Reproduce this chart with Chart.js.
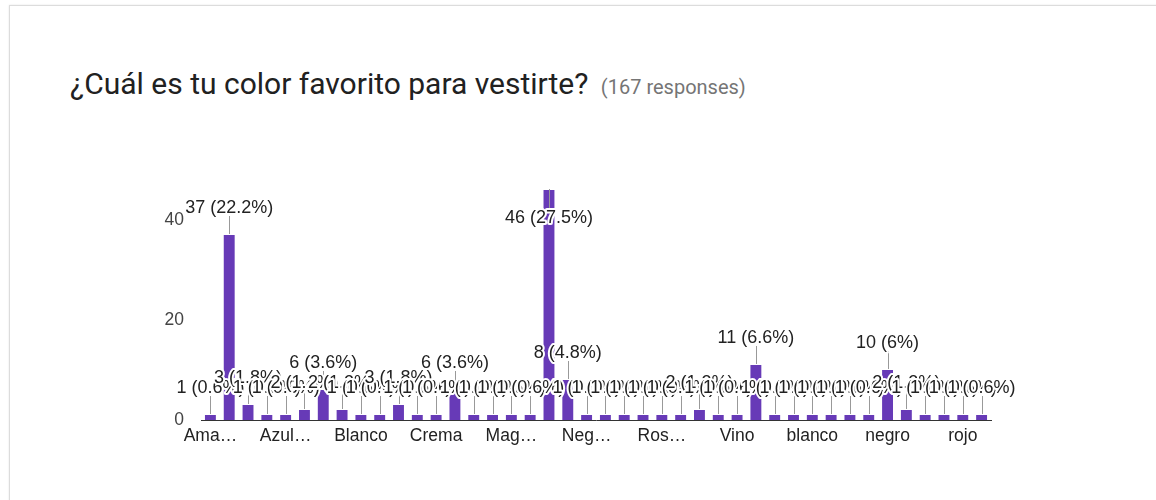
<!DOCTYPE html>
<html>
<head>
<meta charset="utf-8">
<script src="https://cdn.jsdelivr.net/npm/chart.js@4/dist/chart.umd.min.js"></script>
<style>
  html, body { margin: 0; padding: 0; background: #fff; }
  body { width: 1156px; height: 500px; position: relative; overflow: hidden; }
  .card {
    position: absolute; left: 9px; top: 5px; right: -20px; bottom: -20px;
    border: 1px solid #dcdcdc;
    box-shadow: 0 0 2px rgba(0,0,0,0.10);
  }
  .title {
    position: absolute; left: 70px; top: 69px;
    font-family: Roboto, sans-serif; font-size: 30px; line-height: 30px;
    color: #212121; white-space: nowrap;
  }
  .title span { font-size: 20px; color: #757575; margin-left: 5px; }
  #chart { position: absolute; left: 0; top: 0; }
</style>
</head>
<body>
<div class="card"></div>
<div class="title">¿Cuál es tu color favorito para vestirte? <span>(167 responses)</span></div>
<canvas id="chart" width="1156" height="500"></canvas>
<script>
// answers, sorted the way the form lists them
const colores = [
    "Amarillo", "Azul", "Azul cielo", "Azul claro", "Azul marino", "Azul rey",
    "Beige", "Blanca", "Blanco", "Blanco y negro", "Café", "Celeste",
    "Crema", "Gris", "Guinda", "Lila", "Magenta", "Marrón",
    "Morado", "Negro", "Negro y blanco", "Ninguno", "Púrpura", "Rojo",
    "Rosa pastel", "Rosado", "Turquesa", "Verde", "Vino", "azul",
    "azul marino", "beige", "blanco", "café", "gris", "morado",
    "negro", "negro y blanco", "ninguno", "rojizo", "rojo", "rosa"
];
const respuestas = [
    1, 37, 3, 1, 1, 2,
    6, 2, 1, 1, 3, 1,
    1, 6, 1, 1, 1, 1,
    46, 8, 1, 1, 1, 1,
    1, 1, 2, 1, 1, 11,
    1, 1, 1, 1, 1, 1,
    10, 2, 1, 1, 1, 1
];
// only every 4th category gets a (shortened) label
const tickLabels = ["Ama…", "Azul…", "Blanco", "Crema", "Mag…", "Neg…", "Ros…", "Vino", "blanco", "negro", "rojo"];
const yTicks = [0, 20, 40];

const total = respuestas.reduce((a, b) => a + b, 0);
const chartFont = '"Liberation Sans", Arial, sans-serif';

function pct(v) {
    const p = Math.round(v / total * 1000) / 10;
    return String(p);
}

// value + percentage above every bar, with a thin leader line
const barLabels = {
    id: 'barLabels',
    afterDatasetsDraw(chart) {
        const ctx = chart.ctx;
        const area = chart.chartArea;
        const bars = chart.getDatasetMeta(0).data;
        const spots = bars.map((bar, i) => {
            let y = bar.y - 27;
            let above = true;
            if (y < area.top) {
                y = bar.y + 28;
                above = false;
            }
            return { x: bar.x, top: bar.y, y: y, above: above, text: respuestas[i] + ' (' + pct(respuestas[i]) + '%)' };
        });

        ctx.save();
        ctx.strokeStyle = '#999';
        ctx.lineWidth = 1;
        spots.forEach(s => {
            const end = s.above ? s.y + 8 : s.y - 8;
            ctx.beginPath();
            ctx.moveTo(Math.round(s.x) + 0.5, s.top - 1);
            ctx.lineTo(Math.round(s.x) + 0.5, end);
            ctx.stroke();
        });

        ctx.font = '18px ' + chartFont;
        ctx.textAlign = 'center';
        ctx.textBaseline = 'middle';
        ctx.lineJoin = 'round';
        spots.forEach(s => {
            ctx.strokeStyle = '#fff';
            ctx.lineWidth = 4;
            ctx.strokeText(s.text, s.x, s.y);
            ctx.fillStyle = '#222';
            ctx.fillText(s.text, s.x, s.y);
        });
        ctx.restore();
    }
};

new Chart(document.getElementById('chart'), {
    type: 'bar',
    data: {
        labels: colores,
        datasets: [{
            data: respuestas,
            backgroundColor: '#673ab7',
            categoryPercentage: 1,
            barPercentage: 0.58
        }]
    },
    options: {
        responsive: false,
        animation: false,
        devicePixelRatio: 1,
        layout: { padding: { top: 190, right: 165, bottom: 0, left: 0 } },
        plugins: {
            legend: { display: false },
            tooltip: { enabled: false }
        },
        scales: {
            x: {
                grid: { display: false, drawTicks: false },
                border: { display: true, color: '#333', width: 1 },
                afterFit(scale) { scale.height = 80; },
                ticks: {
                    autoSkip: false,
                    maxRotation: 0,
                    padding: 6,
                    color: '#222',
                    font: { family: chartFont, size: 17.5 },
                    callback: (value, index) => index % 4 === 0 ? tickLabels[index / 4] : ''
                }
            },
            y: {
                min: 0,
                max: 46,
                grid: { display: false, drawTicks: false },
                border: { display: false },
                afterFit(scale) { scale.width = 201; },
                afterBuildTicks(scale) { scale.ticks = yTicks.map(v => ({ value: v })); },
                ticks: {
                    padding: 17,
                    color: '#444',
                    font: { family: chartFont, size: 17.5 }
                }
            }
        }
    },
    plugins: [barLabels]
});
</script>
</body>
</html>
